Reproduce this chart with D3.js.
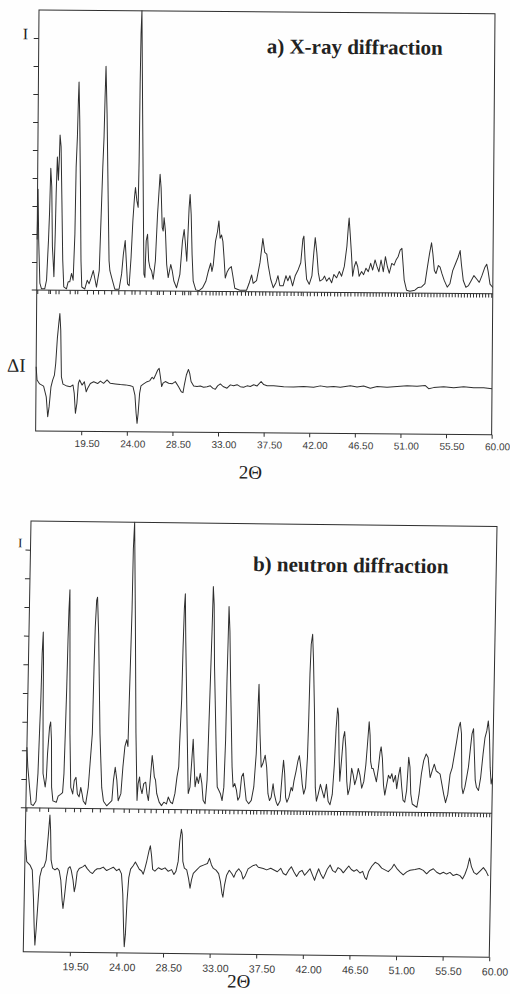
<!DOCTYPE html>
<html>
<head>
<meta charset="utf-8">
<script src="https://cdn.jsdelivr.net/npm/d3@7"></script>
<style>
  html, body { margin: 0; padding: 0; background: #fff; }
  svg { display: block; }
</style>
</head>
<body>
<svg id="chart" width="510" height="994"></svg>
<script>
// ---------- data ----------
// shared axis ticks
const xTickValues = [19.5, 24, 28.5, 33, 37.5, 42, 46.5, 51, 55.5, 60];
const yTickValues = [1, 2, 3, 4, 5, 6, 7, 8, 9];

// a) X-ray diffraction: intensity profile [2θ, I]
const xrayProfile = [
  [15.00,1.80],[15.05,3.60],[15.15,1.80],[15.30,0.25],[15.46,0.05],[15.79,0.05],[15.96,0.36],[16.12,1.80],
  [16.20,2.74],[16.29,4.35],[16.40,3.69],[16.51,1.55],[16.61,0.95],[16.68,0.48],[16.78,2.02],[16.84,3.45],
  [16.93,4.76],[17.05,3.93],[17.13,4.76],[17.18,5.54],[17.29,5.12],[17.41,3.21],[17.54,1.07],[17.66,0.12],
  [17.93,0.05],[18.09,0.30],[18.25,0.30],[18.42,0.60],[18.58,0.36],[18.72,2.02],[18.79,4.40],[18.89,5.48],
  [18.96,6.79],[19.01,7.44],[19.11,6.07],[19.23,3.69],[19.34,1.07],[19.44,0.12],[19.74,0.05],[19.97,0.36],
  [20.16,0.24],[20.33,0.42],[20.56,0.71],[20.69,0.48],[20.89,0.12],[21.15,0.71],[21.30,2.74],[21.42,4.40],
  [21.52,5.48],[21.59,6.90],[21.66,8.01],[21.80,6.31],[21.98,3.21],[22.11,1.07],[22.20,0.71],[22.37,0.48],
  [22.70,0.05],[23.12,0.05],[23.36,0.60],[23.52,1.31],[23.69,1.79],[23.81,1.07],[23.95,0.24],[24.11,0.18],
  [24.28,1.19],[24.43,2.50],[24.57,3.33],[24.66,3.69],[24.81,3.21],[24.94,2.98],[25.00,4.64],[25.04,7.38],
  [25.09,9.17],[25.16,10.0],[25.31,6.31],[25.47,2.62],[25.56,0.60],[25.66,0.48],[25.76,1.79],[25.89,2.02],
  [26.02,1.07],[26.15,0.83],[26.32,0.71],[26.48,0.42],[26.68,1.07],[26.86,2.74],[26.97,3.45],[27.08,4.17],
  [27.19,3.69],[27.33,2.26],[27.43,2.14],[27.51,2.62],[27.65,2.14],[27.80,0.95],[27.96,0.48],[28.20,0.95],
  [28.36,0.71],[28.52,0.36],[28.79,0.12],[29.11,0.60],[29.34,1.79],[29.50,2.20],[29.64,1.67],[29.78,1.07],
  [29.90,2.26],[29.97,2.98],[30.06,3.45],[30.18,2.74],[30.30,1.31],[30.43,0.36],[30.69,0.05],[31.02,0.02],
  [31.35,0.12],[31.68,0.36],[31.91,0.71],[32.14,1.01],[32.27,0.71],[32.40,0.95],[32.60,1.79],[32.79,2.14],
  [32.92,2.52],[33.05,1.90],[33.19,2.02],[33.33,1.79],[33.46,1.19],[33.59,0.48],[33.78,0.71],[33.98,0.83],
  [34.18,0.89],[34.32,0.60],[34.54,0.12],[35.04,0.05],[35.70,0.05],[35.95,0.30],[36.19,0.60],[36.35,0.30],
  [36.68,0.40],[37.01,1.05],[37.27,1.90],[37.47,1.41],[37.67,1.35],[37.83,0.93],[38.07,0.46],[38.33,0.15],
  [38.60,0.34],[38.79,0.58],[38.98,0.22],[39.31,0.22],[39.58,0.58],[39.77,0.40],[39.97,0.58],[40.24,0.22],
  [40.49,0.58],[40.79,0.81],[41.03,1.05],[41.22,1.89],[41.32,2.00],[41.45,1.17],[41.62,0.46],[41.88,0.28],
  [42.14,0.58],[42.31,1.41],[42.44,1.95],[42.61,1.41],[42.77,0.70],[42.93,0.40],[43.20,0.46],[43.39,0.58],
  [43.59,0.40],[43.85,0.52],[44.09,0.34],[44.31,0.64],[44.58,0.52],[44.84,0.75],[45.07,0.58],[45.33,0.93],
  [45.57,1.65],[45.70,2.36],[45.77,2.66],[45.88,2.12],[46.02,1.41],[46.16,0.58],[46.32,0.93],[46.48,1.11],
  [46.65,0.93],[46.80,0.58],[47.04,0.75],[47.24,0.64],[47.47,0.87],[47.70,0.75],[47.93,1.05],[48.13,0.81],
  [48.36,1.17],[48.56,0.93],[48.75,0.75],[48.95,1.17],[49.18,0.75],[49.38,1.29],[49.58,0.93],[49.77,0.70],
  [50.01,1.05],[50.24,0.99],[50.43,1.17],[50.63,1.29],[50.83,1.53],[51.00,1.59],[51.12,1.05],[51.25,0.46],
  [51.49,0.10],[51.82,0.06],[52.31,0.10],[52.64,0.20],[52.97,0.22],[53.30,0.34],[53.53,0.93],[53.73,1.41],
  [53.92,1.80],[54.06,1.41],[54.22,0.81],[54.38,0.70],[54.61,0.99],[54.78,0.93],[54.97,0.70],[55.20,0.46],
  [55.50,0.22],[55.76,0.34],[56.03,0.81],[56.29,1.05],[56.55,1.29],[56.75,1.53],[56.88,1.05],[57.08,0.46],
  [57.34,0.22],[57.60,0.28],[57.87,0.46],[58.13,0.64],[58.40,0.52],[58.66,0.40],[58.92,0.64],[59.19,0.93],
  [59.38,1.05],[59.52,0.81],[59.72,0.34],[60.00,0.22]
];

// a) X-ray diffraction: difference curve ΔI [2θ, ΔI]
const xrayDifference = [
  [15.00,0.65],[15.10,0.18],[15.36,0.04],[15.75,-0.04],[16.02,-0.42],[16.18,-1.13],[16.31,-0.77],[16.48,-0.06],
  [16.64,0.18],[16.81,0.36],[16.93,0.78],[17.07,1.67],[17.20,2.20],[17.30,2.56],[17.40,1.96],[17.50,0.30],
  [17.66,0.04],[18.06,-0.03],[18.39,-0.05],[18.65,0.01],[18.78,-0.29],[18.91,-1.00],[19.05,-0.64],[19.18,0.07],
  [19.30,0.19],[19.54,0.01],[19.77,0.13],[19.96,-0.23],[20.09,-0.11],[20.36,0.07],[20.69,0.13],[21.08,0.07],
  [21.35,0.16],[21.67,0.08],[22.01,0.20],[22.33,0.08],[22.83,0.06],[23.32,0.04],[23.84,0.03],[24.31,0.00],
  [24.57,-0.03],[24.77,-0.33],[24.90,-0.98],[25.00,-1.34],[25.10,-0.98],[25.23,-0.27],[25.36,0.00],[25.62,0.07],
  [25.96,0.15],[26.21,0.18],[26.45,0.31],[26.61,0.25],[26.80,0.40],[27.00,0.57],[27.14,0.63],[27.27,0.33],
  [27.40,-0.02],[27.53,0.10],[27.76,0.16],[28.09,0.10],[28.42,0.08],[28.75,0.16],[29.07,-0.02],[29.34,-0.20],
  [29.51,-0.23],[29.64,0.05],[29.83,0.40],[30.03,0.60],[30.16,0.46],[30.30,0.17],[30.56,0.01],[30.89,-0.01],
  [31.22,0.01],[31.54,-0.03],[31.88,-0.01],[32.20,0.02],[32.47,-0.07],[32.70,-0.10],[32.92,0.02],[33.19,0.09],
  [33.46,0.00],[33.85,-0.06],[34.18,0.06],[34.50,0.03],[34.84,0.07],[35.16,0.00],[35.49,-0.02],[35.83,0.03],
  [36.15,0.01],[36.48,0.07],[36.82,0.03],[37.21,0.19],[37.47,0.08],[37.80,0.04],[38.45,0.04],[39.44,0.01],
  [40.42,0.00],[41.41,0.02],[42.40,0.00],[43.06,0.05],[43.72,0.01],[44.37,0.03],[45.03,0.01],[46.02,0.06],
  [46.68,0.02],[47.33,0.06],[47.99,-0.02],[48.66,0.04],[49.64,0.02],[50.63,0.05],[51.62,0.08],[52.60,0.06],
  [53.42,0.09],[53.75,-0.02],[54.24,0.02],[55.23,0.05],[56.22,0.02],[57.20,0.06],[58.19,0.03],[59.18,0.03],
  [60.00,0.00]
];

// a) X-ray diffraction: reflection positions (2θ)
const xrayReflections = [
  15.1, 16.2, 16.35, 16.9, 17.2, 18.3, 18.8, 19.05, 20.0, 20.6, 21.1, 21.7, 22.4, 23.1, 23.7, 24.4,
  24.7, 25.2, 25.8, 26.3, 26.9, 27.1, 27.5, 28.2, 28.7, 29.4, 29.6, 30.0, 30.2, 30.9, 31.3, 31.7,
  32.1, 32.4, 32.7, 33.0, 33.3, 33.7, 34.1, 34.4, 34.8, 35.2, 35.6, 35.9, 36.2, 36.6, 37.0, 37.3,
  37.6, 38.0, 38.3, 38.7, 39.0, 39.4, 39.7, 40.1, 40.4, 40.8, 41.1, 41.3, 41.7, 42.0, 42.4, 42.7,
  43.1, 43.4, 43.7, 44.0, 44.4, 44.7, 45.0, 45.4, 45.7, 46.0, 46.4, 46.7, 47.0, 47.3, 47.6, 47.9,
  48.2, 48.5, 48.8, 49.1, 49.4, 49.7, 50.0, 50.3, 50.6, 50.9, 51.2, 51.5, 51.8, 52.1, 52.4, 52.7,
  53.0, 53.3, 53.6, 53.9, 54.2, 54.5, 54.8, 55.1, 55.4, 55.7, 56.0, 56.3, 56.6, 56.9, 57.2, 57.5,
  57.8, 58.1, 58.4, 58.7, 59.0, 59.3, 59.6, 59.9
];

// b) neutron diffraction: intensity profile [2θ, I]
const neutronProfile = [
  [15.00,2.11],[15.12,1.42],[15.39,0.49],[15.50,0.12],[15.71,0.08],[15.97,0.24],[16.11,1.20],[16.20,2.82],
  [16.26,3.75],[16.31,5.38],[16.38,6.13],[16.45,5.14],[16.50,3.29],[16.60,1.20],[16.83,0.73],[16.93,1.08],
  [17.00,1.89],[17.15,2.82],[17.25,3.00],[17.36,2.36],[17.45,0.73],[17.60,0.25],[17.93,0.20],[18.10,0.42],
  [18.33,0.48],[18.52,0.54],[18.62,1.20],[18.68,2.60],[18.74,4.22],[18.78,5.85],[18.82,6.90],[18.88,7.62],
  [18.97,5.85],[19.13,2.60],[19.30,0.73],[19.50,0.50],[19.63,0.97],[19.79,1.08],[19.95,0.50],[20.12,0.40],
  [20.27,0.73],[20.41,0.50],[20.53,0.26],[20.76,0.14],[20.99,0.73],[21.29,2.60],[21.34,4.92],[21.39,6.32],
  [21.48,7.26],[21.56,7.37],[21.73,6.07],[22.03,2.60],[22.29,0.73],[22.48,0.26],[22.80,0.10],[23.29,0.28],
  [23.41,0.99],[23.56,1.45],[23.74,0.99],[23.90,0.28],[24.15,0.53],[24.30,1.46],[24.46,2.18],[24.62,2.41],
  [24.75,2.18],[24.80,3.81],[24.86,5.45],[24.91,6.95],[24.93,9.05],[25.01,10.0],[25.24,6.73],[25.50,2.67],
  [25.72,0.30],[25.80,0.89],[25.93,1.12],[26.02,0.77],[26.19,0.54],[26.34,0.89],[26.53,0.94],[26.67,0.54],
  [26.82,0.30],[26.98,1.13],[27.11,1.87],[27.25,1.48],[27.35,1.13],[27.47,1.02],[27.61,0.55],[27.86,0.25],
  [28.09,0.13],[28.31,0.25],[28.57,0.19],[28.73,0.43],[28.96,0.25],[29.15,0.20],[29.37,0.56],[29.54,1.14],
  [29.69,1.49],[29.74,2.35],[29.86,3.87],[29.90,5.62],[29.96,7.01],[30.03,7.53],[30.15,5.91],[30.45,2.66],
  [30.65,0.56],[30.81,0.79],[30.94,1.72],[31.04,2.46],[31.17,1.62],[31.30,0.80],[31.46,1.15],[31.62,0.92],
  [31.78,1.27],[31.95,0.92],[32.10,0.33],[32.30,0.21],[32.45,1.04],[32.51,2.45],[32.61,4.82],[32.67,6.22],
  [32.72,7.79],[32.83,7.17],[32.97,5.02],[33.28,2.07],[33.44,0.80],[33.60,0.69],[33.76,0.57],[33.93,0.33],
  [34.08,0.80],[34.17,2.46],[34.20,4.60],[34.24,5.88],[34.27,7.10],[34.40,6.23],[34.55,4.48],[34.84,1.51],
  [34.97,0.81],[35.13,0.93],[35.30,0.70],[35.45,0.35],[35.62,0.47],[35.78,1.17],[35.94,1.29],[36.10,0.82],
  [36.26,0.35],[36.51,0.23],[36.75,0.35],[36.97,0.82],[37.15,1.98],[37.25,3.69],[37.30,4.40],[37.48,2.68],
  [37.65,1.51],[37.80,1.63],[38.02,1.93],[38.18,1.51],[38.35,0.59],[38.51,0.35],[38.67,0.47],[38.83,0.94],
  [38.96,0.59],[39.16,0.30],[39.31,0.18],[39.54,0.35],[39.70,1.30],[39.80,1.76],[39.93,1.30],[40.06,0.47],
  [40.19,0.30],[40.38,0.47],[40.58,0.82],[40.71,0.70],[40.84,1.05],[41.03,1.40],[41.19,1.75],[41.32,1.93],
  [41.48,1.50],[41.64,0.94],[41.80,0.59],[41.97,0.82],[42.10,1.86],[42.16,3.26],[42.20,4.77],[42.27,5.82],
  [42.39,6.17],[42.52,5.24],[42.71,3.38],[42.91,0.82],[43.04,0.35],[43.20,0.59],[43.40,0.94],[43.59,0.70],
  [43.78,0.47],[43.98,0.94],[44.17,0.35],[44.36,0.23],[44.56,0.59],[44.71,1.63],[44.82,2.91],[44.93,3.61],
  [45.03,3.38],[45.15,1.98],[45.26,1.05],[45.39,1.75],[45.53,2.56],[45.65,2.79],[45.79,2.21],[45.94,1.05],
  [46.07,0.59],[46.23,0.82],[46.39,1.51],[46.55,1.28],[46.71,0.94],[46.88,1.17],[47.03,1.51],[47.20,1.28],
  [47.39,0.82],[47.58,1.05],[47.75,1.63],[47.89,2.45],[48.00,3.14],[48.11,2.68],[48.21,1.75],[48.34,1.51],
  [48.47,1.51],[48.63,1.28],[48.80,1.05],[48.96,1.51],[49.11,2.10],[49.20,2.27],[49.34,1.86],[49.49,0.94],
  [49.63,0.59],[49.79,0.94],[49.95,1.28],[50.12,1.17],[50.28,1.34],[50.44,1.05],[50.63,1.28],[50.77,0.82],
  [50.93,1.28],[51.08,1.57],[51.25,0.88],[51.40,0.42],[51.57,0.35],[51.73,0.76],[51.88,1.92],[52.02,1.57],
  [52.14,0.64],[52.30,0.29],[52.53,0.23],[52.75,0.18],[52.94,0.64],[53.13,1.34],[53.33,1.81],[53.56,2.04],
  [53.75,1.92],[53.98,1.22],[54.17,1.46],[54.36,1.69],[54.55,1.46],[54.75,1.40],[54.94,1.34],[55.13,0.99],
  [55.32,0.64],[55.51,0.35],[55.71,0.64],[55.90,1.34],[56.09,1.57],[56.29,2.04],[56.48,2.50],[56.67,2.99],
  [56.80,3.16],[56.93,2.76],[57.06,0.90],[57.18,0.67],[57.35,0.90],[57.51,1.25],[57.66,1.60],[57.83,2.30],
  [57.95,2.76],[58.09,2.94],[58.21,2.06],[58.34,1.14],[58.47,0.90],[58.67,0.79],[58.86,1.25],[59.05,2.06],
  [59.21,2.64],[59.37,2.87],[59.50,3.22],[59.63,2.76],[59.76,1.60],[59.88,1.02],[60.00,1.25]
];

// b) neutron diffraction: difference curve ΔI [2θ, ΔI]
const neutronDifference = [
  [15.00,0.94],[15.18,0.19],[15.50,0.07],[15.73,-0.10],[15.90,-1.15],[16.01,-2.08],[16.11,-2.72],[16.20,-2.19],
  [16.35,-1.14],[16.47,-0.33],[16.66,-0.04],[16.86,0.02],[17.05,0.25],[17.21,1.07],[17.34,1.82],[17.43,1.30],
  [17.53,0.25],[17.69,-0.03],[17.92,-0.09],[18.14,-0.03],[18.33,-0.11],[18.50,-0.44],[18.66,-1.14],[18.76,-1.43],
  [18.88,-1.02],[19.05,-0.34],[19.20,-0.03],[19.37,0.03],[19.49,-0.09],[19.68,-0.43],[19.82,-0.84],[19.94,-0.61],
  [20.07,-0.15],[20.26,-0.03],[20.59,0.03],[20.81,0.09],[21.03,-0.03],[21.30,-0.14],[21.55,-0.20],[21.78,-0.09],
  [22.00,-0.03],[22.26,-0.03],[22.58,0.03],[22.91,-0.09],[23.23,-0.03],[23.55,0.03],[23.87,-0.09],[24.12,-0.03],
  [24.35,-0.20],[24.51,-0.90],[24.64,-2.06],[24.74,-2.74],[24.83,-2.30],[24.93,-1.14],[25.06,-0.33],[25.22,-0.03],
  [25.48,0.10],[25.67,0.22],[25.86,0.10],[26.06,-0.03],[26.29,-0.09],[26.45,-0.20],[26.58,-0.03],[26.77,0.26],
  [26.97,0.62],[27.09,0.79],[27.22,0.45],[27.35,-0.03],[27.57,-0.09],[27.90,0.03],[28.22,-0.03],[28.54,0.03],
  [28.86,-0.09],[29.18,-0.03],[29.41,-0.20],[29.60,-0.09],[29.80,0.26],[29.92,0.97],[30.06,1.38],[30.15,1.20],
  [30.25,0.26],[30.41,0.03],[30.64,-0.03],[30.83,-0.33],[30.99,-0.67],[31.12,-0.38],[31.28,-0.15],[31.60,-0.03],
  [31.92,0.09],[32.31,0.15],[32.63,0.20],[32.82,0.38],[33.02,0.15],[33.21,0.03],[33.47,-0.03],[33.73,-0.15],
  [33.92,-0.44],[34.08,-0.83],[34.18,-0.97],[34.31,-0.56],[34.50,-0.20],[34.75,-0.03],[35.01,-0.15],[35.20,-0.27],
  [35.40,-0.09],[35.66,0.03],[35.91,-0.09],[36.10,-0.33],[36.30,-0.21],[36.56,0.03],[36.81,0.09],[37.07,0.15],
  [37.33,0.18],[37.55,0.09],[38.03,0.05],[38.36,0.00],[38.75,0.06],[39.07,0.00],[39.39,-0.06],[39.72,0.06],
  [39.97,-0.12],[40.23,-0.17],[40.49,0.00],[40.74,0.12],[41.00,-0.06],[41.26,-0.22],[41.51,-0.06],[41.77,0.00],
  [42.03,-0.17],[42.28,-0.06],[42.54,0.06],[42.80,-0.17],[43.00,-0.34],[43.19,-0.12],[43.38,0.06],[43.58,-0.12],
  [43.83,-0.28],[44.02,-0.12],[44.22,0.06],[44.48,0.20],[44.73,0.00],[44.99,-0.06],[45.25,0.11],[45.51,0.05],
  [45.76,-0.07],[46.02,0.05],[46.28,0.17],[46.53,0.05],[46.79,-0.01],[47.05,0.05],[47.37,-0.07],[47.63,-0.01],
  [47.85,-0.23],[48.01,-0.29],[48.21,-0.01],[48.50,0.17],[48.82,0.31],[49.14,0.25],[49.46,0.11],[49.78,0.05],
  [50.10,-0.01],[50.43,0.11],[50.65,0.25],[50.91,0.11],[51.23,-0.01],[51.55,-0.12],[51.88,-0.01],[52.20,0.05],
  [52.68,0.08],[53.10,0.11],[53.48,0.05],[53.81,-0.07],[54.13,0.05],[54.45,0.11],[54.78,-0.01],[55.10,-0.07],
  [55.42,-0.01],[55.74,-0.07],[56.06,-0.01],[56.38,-0.12],[56.71,-0.07],[57.03,-0.12],[57.29,-0.23],[57.51,-0.07],
  [57.74,0.17],[57.93,0.50],[58.12,0.20],[58.38,-0.01],[58.64,-0.07],[58.96,0.05],[59.28,0.17],[59.54,0.05],
  [59.77,-0.12]
];

// b) neutron diffraction: reflection positions (2θ)
const neutronReflections = [
  15.1, 16.35, 17.2, 18.85, 19.7, 20.3, 21.45, 22.2, 23.5, 24.5, 25.0, 25.9, 26.5, 27.1, 27.6, 28.3,
  28.8, 29.4, 30.0, 30.6, 31.0, 31.5, 31.8, 32.3, 32.7, 33.2, 33.6, 34.0, 34.3, 34.7, 35.1, 35.5,
  35.9, 36.3, 36.7, 37.0, 37.3, 37.7, 38.0, 38.3, 38.7, 39.0, 39.3, 39.7, 40.0, 40.3, 40.6, 40.9,
  41.2, 41.5, 41.8, 42.1, 42.4, 42.7, 43.0, 43.3, 43.6, 43.9, 44.2, 44.5, 44.8, 45.1, 45.4, 45.7,
  46.0, 46.3, 46.6, 46.9, 47.2, 47.5, 47.8, 48.1, 48.4, 48.7, 49.0, 49.3, 49.6, 49.9, 50.2, 50.5,
  50.8, 51.1, 51.4, 51.7, 52.0, 52.3, 52.6, 52.9, 53.2, 53.5, 53.8, 54.1, 54.4, 54.7, 55.0, 55.3,
  55.6, 55.9, 56.2, 56.5, 56.8, 57.1, 57.4, 57.7, 58.0, 58.3, 58.6, 58.9, 59.2, 59.5, 59.8
];

// ---------- layout ----------
const panels = [
  {
    profile: xrayProfile, difference: xrayDifference, reflections: xrayReflections,
    ox: 39, oy: 10, skewY: 0.008, skewX: -0.008,
    width: 456, zeroY: 280, height: 421, diffBase: 375,
    title: "a) X-ray diffraction", titleX: 228, titleY: 41.5, titleSize: 21,
    iLabel: { x: -16, y: 29.5, size: 16 },
    dLabel: { x: -29, y: 362, size: 19 },
    tickLabelY: 15.6, tickLabelSize: 10,
    axisLabelX: 215, axisLabelY: 467, axisLabelSize: 19
  },
  {
    profile: neutronProfile, difference: neutronDifference, reflections: neutronReflections,
    ox: 31, oy: 521, skewY: 0.012, skewX: -0.018,
    width: 466, zeroY: 286.7, height: 430.7, diffBase: 346,
    title: "b) neutron diffraction", titleX: 222.8, titleY: 47.3, titleSize: 21,
    iLabel: { x: -12.5, y: 26.5, size: 13 },
    dLabel: null,
    tickLabelY: 18, tickLabelSize: 10.5,
    axisLabelX: 216, axisLabelY: 464, axisLabelSize: 19
  }
];

const ink = "#2e2e2e";
const serif = "'Liberation Serif', 'Times New Roman', serif";
const sans = "'Liberation Sans', Arial, sans-serif";

const svg = d3.select("#chart");
svg.append("rect").attr("width", 510).attr("height", 994).attr("fill", "#fefefe");

panels.forEach(p => {
  const g = svg.append("g")
    .attr("transform", `matrix(1,${p.skewY},${p.skewX},1,${p.ox},${p.oy})`);

  const unit = p.zeroY / 10;
  const x = d3.scaleLinear().domain([15, 60]).range([0, p.width]);
  const y = d3.scaleLinear().domain([0, 10]).range([p.zeroY, 0]);
  const yd = d3.scaleLinear()
    .domain([(p.diffBase - p.height) / unit, (p.diffBase - p.zeroY) / unit])
    .range([p.height, p.zeroY]);

  // frame around both panes and the zero line of the intensity pane
  g.append("rect")
    .attr("x", 0).attr("y", 0).attr("width", p.width).attr("height", p.height)
    .attr("fill", "none").attr("stroke", ink).attr("stroke-width", 1);
  g.append("line")
    .attr("x1", -5).attr("x2", p.width).attr("y1", p.zeroY).attr("y2", p.zeroY)
    .attr("stroke", ink).attr("stroke-width", 1);

  // intensity ticks
  const yAxis = g.append("g")
    .call(d3.axisLeft(y).tickValues(yTickValues).tickSize(5).tickFormat(""));
  yAxis.select(".domain").remove();
  yAxis.selectAll("line").attr("stroke", ink);

  // 2θ axis under the difference pane
  const xAxis = g.append("g")
    .attr("transform", `translate(0,${p.height})`)
    .call(d3.axisBottom(x).tickValues(xTickValues).tickSize(4).tickSizeOuter(0)
      .tickFormat(d3.format(".2f")));
  xAxis.select(".domain").remove();
  xAxis.selectAll("line").attr("stroke", ink);
  xAxis.selectAll("text")
    .attr("y", p.tickLabelY).attr("dy", 0).attr("dx", 5.5)
    .attr("fill", "#3a3a3a")
    .style("font-family", sans).style("font-size", p.tickLabelSize + "px");

  // reflection markers
  g.append("g").selectAll("line")
    .data(p.reflections)
    .join("line")
    .attr("x1", d => x(d)).attr("x2", d => x(d))
    .attr("y1", p.zeroY).attr("y2", p.zeroY + 4)
    .attr("stroke", ink).attr("stroke-width", 1);

  // intensity profile
  const line = d3.line().x(d => x(d[0])).y(d => y(d[1]));
  g.append("path")
    .datum(p.profile)
    .attr("d", line)
    .attr("fill", "none").attr("stroke", ink).attr("stroke-width", 1)
    .attr("stroke-linejoin", "round");

  // difference curve
  const dline = d3.line().x(d => x(d[0])).y(d => yd(d[1]));
  g.append("path")
    .datum(p.difference)
    .attr("d", dline)
    .attr("fill", "none").attr("stroke", ink).attr("stroke-width", 1)
    .attr("stroke-linejoin", "round");

  // labels
  g.append("text")
    .attr("x", p.titleX).attr("y", p.titleY)
    .attr("fill", "#222")
    .style("font-family", serif).style("font-weight", "bold")
    .style("font-size", p.titleSize + "px")
    .text(p.title);

  g.append("text")
    .attr("x", p.iLabel.x).attr("y", p.iLabel.y)
    .attr("fill", "#222")
    .style("font-family", serif).style("font-size", p.iLabel.size + "px")
    .text("I");

  if (p.dLabel) {
    g.append("text")
      .attr("x", p.dLabel.x).attr("y", p.dLabel.y)
      .attr("fill", "#222")
      .style("font-family", serif).style("font-size", p.dLabel.size + "px")
      .text("ΔI");
  }

  g.append("text")
    .attr("x", p.axisLabelX).attr("y", p.axisLabelY)
    .attr("text-anchor", "middle")
    .attr("fill", "#222")
    .style("font-family", serif).style("font-size", p.axisLabelSize + "px")
    .text("2Θ");
});
</script>
</body>
</html>
